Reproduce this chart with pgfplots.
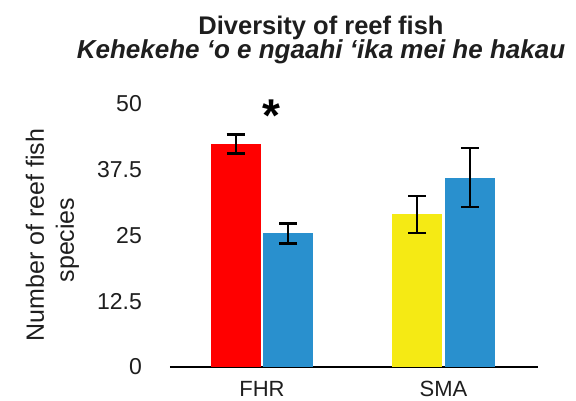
\documentclass[border=0pt]{standalone}
\usepackage{fontspec}
\setmainfont{Liberation Sans}
\usepackage{pgfplots}
\pgfplotsset{compat=1.18}
\definecolor{fblue}{RGB}{41,144,206}
\definecolor{fred}{RGB}{255,0,0}
\definecolor{fyellow}{RGB}{245,234,20}
\definecolor{txt}{RGB}{30,30,30}
\begin{document}
\begin{tikzpicture}[x=1pt,y=1pt]
\useasboundingbox (-170,-34) rectangle (406,367);
\begin{axis}[
  at={(0,0)}, anchor=south west,
  scale only axis, width=368pt, height=263pt,
  xmin=-0.507, xmax=1.5205, ymin=0, ymax=50,
  axis x line*=bottom, axis y line*=left,
  y axis line style={draw=none},
  x axis line style={line width=1.8pt, black, -},
  major tick length=0pt,
  xtick={0,1}, xticklabels={FHR,SMA},
  ytick={0,12.5,25,37.5,50},
  yticklabels={0,12.5,25,37.5,50},
  /pgf/number format/assume math mode=true,
  yticklabel style={font=\fontsize{23}{27}\selectfont, text=txt, inner sep=0pt, anchor=east, xshift=-28pt},
  xticklabel style={font=\fontsize{22}{26}\selectfont, text=txt, inner sep=0pt, anchor=north, yshift=-14pt},
  ybar, bar width=0.275,
  error bars/y dir=both, error bars/y explicit,
  error bars/error bar style={line width=2.2pt, black},
  error bars/error mark options={line width=2.4pt, black, mark size=9pt, rotate=90},
]
\addplot[fill=fred, draw=none, bar shift=0pt] coordinates {(-0.145,42.4) +- (0,1.8)};
\addplot[fill=fblue, draw=none, bar shift=0pt] coordinates {(0.145,25.4) +- (0,1.9)};
\addplot[fill=fyellow, draw=none, bar shift=0pt] coordinates {(0.855,29.0) +- (0,3.5)};
\addplot[fill=fblue, draw=none, bar shift=0pt] coordinates {(1.145,36.0) +- (0,5.6)};
\end{axis}
\node[anchor=base, text=txt, font=\fontsize{25.5}{30}\selectfont\bfseries] at (151,332) {Diversity of reef fish};
\node[anchor=base, text=txt, font=\fontsize{26}{30}\selectfont\bfseries\itshape] at (151,308) {Kehekehe ‘o e ngaahi ‘ika mei he hakau};
\node[anchor=base, rotate=90, text=txt, font=\fontsize{25}{30}\selectfont] at (-126,132) {Number of reef fish};
\node[anchor=base, rotate=90, text=txt, font=\fontsize{25}{30}\selectfont] at (-96,127) {species};
\node[anchor=base, font=\fontsize{46}{46}\selectfont\bfseries] at (101.5,235) {*};
\end{tikzpicture}
\end{document}
